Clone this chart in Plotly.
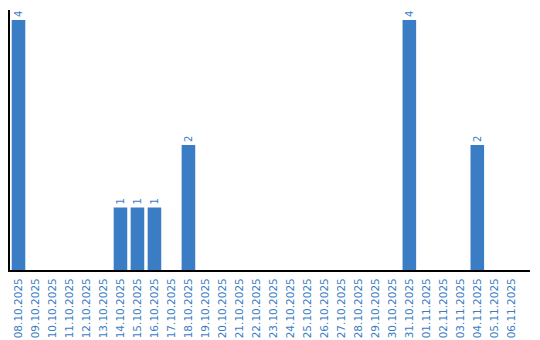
import plotly.graph_objects as go

dates = ["08.10.2025", "09.10.2025", "10.10.2025", "11.10.2025", "12.10.2025",
         "13.10.2025", "14.10.2025", "15.10.2025", "16.10.2025", "17.10.2025",
         "18.10.2025", "19.10.2025", "20.10.2025", "21.10.2025", "22.10.2025",
         "23.10.2025", "24.10.2025", "25.10.2025", "26.10.2025", "27.10.2025",
         "28.10.2025", "29.10.2025", "30.10.2025", "31.10.2025", "01.11.2025",
         "02.11.2025", "03.11.2025", "04.11.2025", "05.11.2025", "06.11.2025"]
counts = [4, 0, 0, 0, 0, 0, 1, 1, 1, 0, 2, 0, 0, 0, 0, 0, 0, 0, 0, 0, 0, 0, 0, 4, 0, 0, 0, 2, 0, 0]

blue = "#3a7dc4"
labels = [str(c) if c else "" for c in counts]

fig = go.Figure(go.Bar(
    x=dates, y=counts, text=labels, textposition="outside", textangle=-90,
    textfont=dict(color=blue, size=10, family="DejaVu Sans"),
    marker=dict(color=blue, line=dict(width=0)), width=0.8, cliponaxis=False,
))
fig.update_layout(
    width=540, height=340, margin=dict(l=10, r=10, t=10, b=70),
    plot_bgcolor="white", paper_bgcolor="white", showlegend=False,
    font=dict(family="DejaVu Sans", size=10, color=blue),
)
fig.update_xaxes(type="category", range=[-0.5, 30.1], tickangle=-90,
                 showline=True, linecolor="black", linewidth=2, ticks="",
                 automargin=False, ticklabelstandoff=2,
                 showgrid=False, tickfont=dict(color=blue, size=10.5, family="DejaVu Sans"))
fig.update_yaxes(range=[0, 4.16], showline=True, linecolor="black", linewidth=2,
                 automargin=False,
                 showticklabels=False, ticks="", showgrid=False, zeroline=False)
fig.write_html("out.html")
